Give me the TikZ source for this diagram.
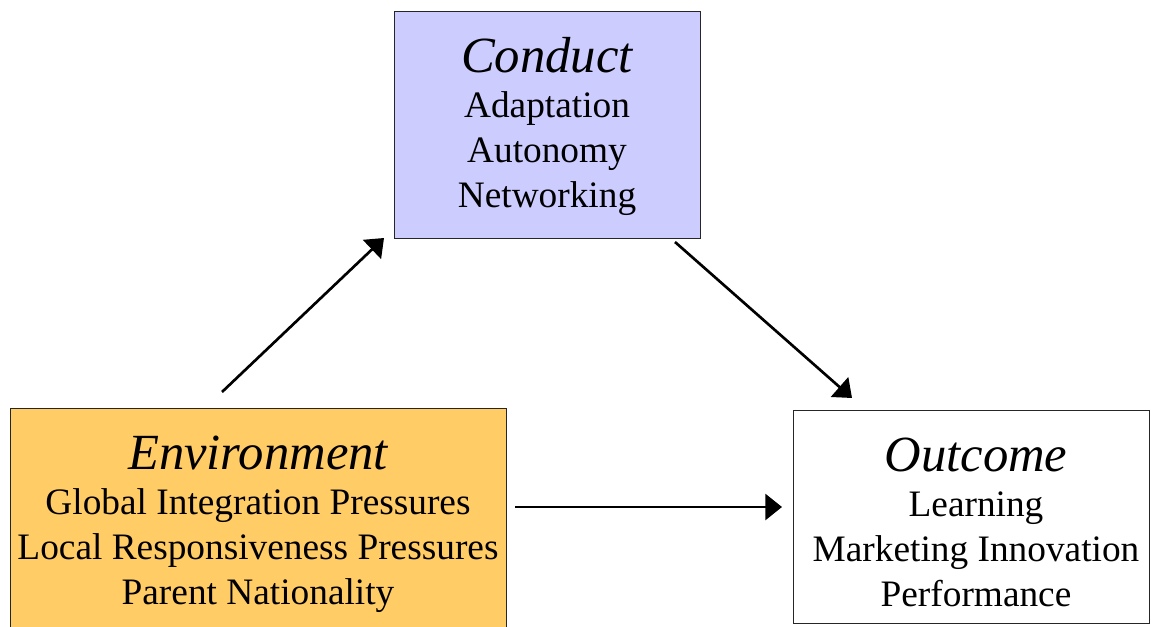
\documentclass[tikz,border=0pt]{standalone}
\usepackage{fontspec}
\setmainfont{Liberation Serif}
\usetikzlibrary{arrows.meta}
\definecolor{conductfill}{HTML}{CCCCFF}
\definecolor{envfill}{HTML}{FFCC66}
\begin{document}
\begin{tikzpicture}[x=0.75pt,y=-0.75pt,
  box/.style={draw=black!85, line width=0.75pt, inner sep=0pt},
  txt/.style={align=center, inner sep=0pt, font=\fontsize{28}{33.75}\selectfont},
  conn/.style={line width=2pt, -{Triangle[length=12.5pt,width=19.5pt]}}]
\useasboundingbox (0,0) rectangle (1151,627);
\clip (0,0) rectangle (1151,627);
\node[box, fill=conductfill, minimum width=229.5pt, minimum height=169.5pt] (conduct) at (547,125) {};
\node[box, fill=envfill, minimum width=372pt, minimum height=168pt] (env) at (258,520) {};
\node[box, fill=white, minimum width=267pt, minimum height=159.75pt] (outcome) at (971,516.5) {};
\node[txt] (conducttxt) at (547,126.5)
  {{\fontsize{38}{44}\selectfont\itshape Conduct}\\ Adaptation\\ Autonomy\\ Networking};
\node[txt] (envtxt) at (258,524.5)
  {{\fontsize{38}{44}\selectfont\itshape Environment}\\ Global Integration Pressures\\ Local Responsiveness Pressures\\ Parent Nationality};
\node[txt] (outcometxt) at (976,522.5)
  {{\fontsize{38}{44}\selectfont\itshape Outcome}\\ Learning\\ Marketing Innovation\\ Performance};
\coordinate (ec1) at (222,392);
\coordinate (ec2) at (384,238);
\coordinate (co1) at (675,242);
\coordinate (co2) at (852,398);
\coordinate (eo1) at (515,507);
\coordinate (eo2) at (782,507);
\draw[conn] (ec1) -- (ec2);
\draw[conn] (co1) -- (co2);
\draw[conn] (eo1) -- (eo2);
\end{tikzpicture}
\end{document}
